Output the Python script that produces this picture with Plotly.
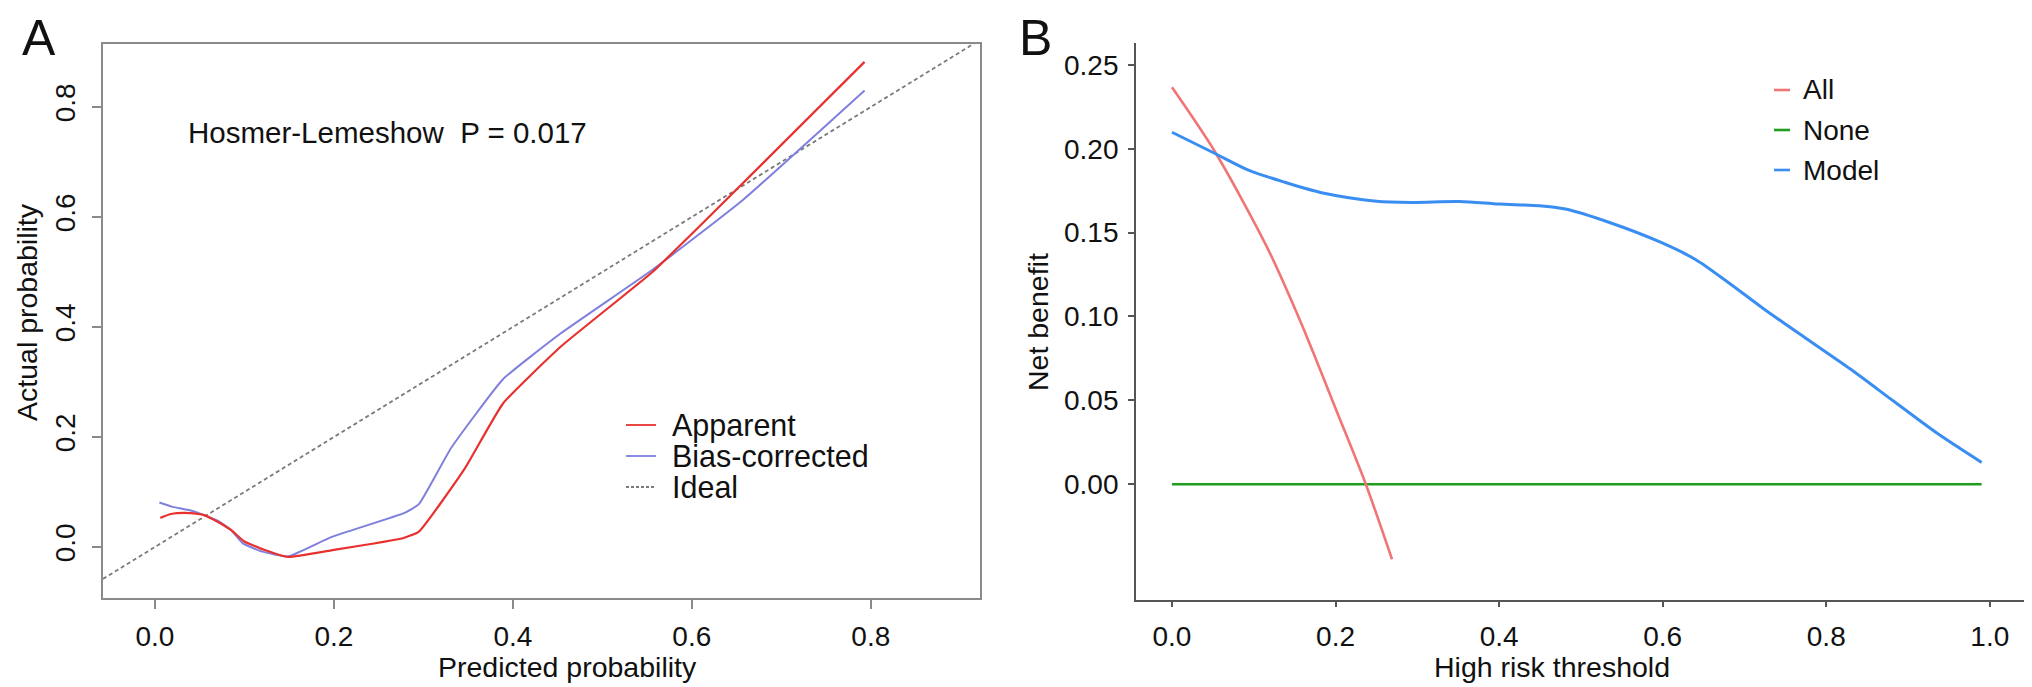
import plotly.graph_objects as go

W, H = 2032, 687
FONT = "Liberation Sans, Arial, Helvetica, sans-serif"

# ---------------- Panel A: calibration curve ----------------
apparent_pred = [0.006, 0.018, 0.033, 0.048, 0.055, 0.070, 0.085, 0.100, 0.122, 0.149,
                 0.197, 0.277, 0.295, 0.346, 0.389, 0.454, 0.556, 0.621, 0.793]
apparent_actual = [0.053, 0.060, 0.062, 0.060, 0.058, 0.046, 0.031, 0.010, -0.005, -0.018,
                   -0.006, 0.016, 0.028, 0.142, 0.261, 0.365, 0.500, 0.603, 0.882]

bias_pred = [0.005, 0.020, 0.039, 0.055, 0.070, 0.085, 0.098, 0.119, 0.149, 0.197,
             0.279, 0.295, 0.331, 0.389, 0.454, 0.556, 0.657, 0.793]
bias_actual = [0.081, 0.073, 0.067, 0.058, 0.048, 0.031, 0.007, -0.008, -0.017, 0.018,
               0.062, 0.078, 0.180, 0.305, 0.389, 0.504, 0.631, 0.830]

ideal_x = [-0.058, 1.0]
ideal_y = [-0.058, 1.0]

a_ticks = [0.0, 0.2, 0.4, 0.6, 0.8]
a_ticktext = ["0.0", "0.2", "0.4", "0.6", "0.8"]
a_legend = ["Apparent", "Bias-corrected", "Ideal"]
hl_text = "Hosmer-Lemeshow  P = 0.017"

# ---------------- Panel B: decision curve ----------------
all_thr = [0.0, 0.052, 0.116, 0.159, 0.202, 0.237, 0.269]
all_nb = [0.2366, 0.1986, 0.1415, 0.0948, 0.0428, 0.0, -0.0447]

none_thr = [0.0, 0.99]
none_nb = [0.0, 0.0]

model_thr = [0.0, 0.052, 0.095, 0.138, 0.186, 0.250, 0.293, 0.352, 0.400, 0.449, 0.481,
             0.535, 0.598, 0.641, 0.679, 0.722, 0.775, 0.829, 0.883, 0.937, 0.990]
model_nb = [0.2098, 0.1973, 0.1869, 0.1800, 0.1734, 0.1687, 0.1680, 0.1685, 0.1670, 0.1660, 0.1640,
            0.1560, 0.1441, 0.1337, 0.1207, 0.1051, 0.0870, 0.0688, 0.0493, 0.0299, 0.0130]

b_xticks = [0.0, 0.2, 0.4, 0.6, 0.8, 1.0]
b_xticktext = ["0.0", "0.2", "0.4", "0.6", "0.8", "1.0"]
b_yticks = [0.0, 0.05, 0.10, 0.15, 0.20, 0.25]
b_yticktext = ["0.00", "0.05", "0.10", "0.15", "0.20", "0.25"]
b_legend = ["All", "None", "Model"]

# colours
C_APP = "#E8312F"
C_BIAS = "#7F7FDD"
C_IDEAL = "#7a7a7a"
C_ALL = "#F07575"
C_NONE = "#1F9E1F"
C_MODEL = "#3A8EF2"


def px(x):
    return x / W


def py(y):
    return 1 - y / H


fig = go.Figure()

fig.add_trace(go.Scatter(x=ideal_x, y=ideal_y, mode="lines", name="Ideal",
                         line=dict(color=C_IDEAL, width=1.8, dash="4px,3px"),
                         xaxis="x", yaxis="y", showlegend=False))
fig.add_trace(go.Scatter(x=bias_pred, y=bias_actual, mode="lines", name="Bias-corrected",
                         line=dict(color=C_BIAS, width=2, shape="spline", smoothing=0.4),
                         xaxis="x", yaxis="y", showlegend=False))
fig.add_trace(go.Scatter(x=apparent_pred, y=apparent_actual, mode="lines", name="Apparent",
                         line=dict(color=C_APP, width=2.2, shape="spline", smoothing=0.4),
                         xaxis="x", yaxis="y", showlegend=False))

fig.add_trace(go.Scatter(x=none_thr, y=none_nb, mode="lines", name="None",
                         line=dict(color=C_NONE, width=2.6),
                         xaxis="x2", yaxis="y2", showlegend=False))
fig.add_trace(go.Scatter(x=all_thr, y=all_nb, mode="lines", name="All",
                         line=dict(color=C_ALL, width=2.6, shape="spline", smoothing=0.8),
                         xaxis="x2", yaxis="y2", showlegend=False))
fig.add_trace(go.Scatter(x=model_thr, y=model_nb, mode="lines", name="Model",
                         line=dict(color=C_MODEL, width=3, shape="spline", smoothing=0.8),
                         xaxis="x2", yaxis="y2", showlegend=False))

tickfont = dict(family=FONT, size=28, color="#111111")

# pixel geometry of the two panels
A_L, A_R, A_T, A_B = 95, 972, 36, 590
B_L, B_R, B_T, B_B = 1128, 2017, 35, 592

fig.update_layout(
    width=W, height=H,
    margin=dict(l=0, r=0, t=0, b=0),
    paper_bgcolor="white", plot_bgcolor="white",
    font=dict(family=FONT, size=28, color="#111111"),
    xaxis=dict(domain=[px(A_L), px(A_R)], range=[-0.058, 0.922],
               tickvals=a_ticks, ticktext=a_ticktext, tickfont=tickfont,
               ticks="outside", ticklen=9, tickwidth=1.5, tickcolor="#8a8a8a",
               showline=True, linecolor="#8a8a8a", linewidth=1.8, mirror=True,
               showgrid=False, zeroline=False, ticklabelstandoff=3, anchor="y"),
    yaxis=dict(domain=[py(A_B), py(A_T)], range=[-0.0927, 0.9145],
               tickvals=a_ticks, ticktext=a_ticktext, tickfont=tickfont, tickangle=-90,
               ticks="outside", ticklen=9, tickwidth=1.5, tickcolor="#8a8a8a",
               showline=True, linecolor="#8a8a8a", linewidth=1.8, mirror=True,
               showgrid=False, zeroline=False, ticklabelstandoff=6, anchor="x"),
    xaxis2=dict(domain=[px(B_L), px(B_R)], range=[-0.044, 1.043],
                tickvals=b_xticks, ticktext=b_xticktext, tickfont=tickfont,
                ticks="outside", ticklen=5, tickwidth=1.5, tickcolor="#555555",
                showline=True, linecolor="#555555", linewidth=1.8,
                showgrid=False, zeroline=False, ticklabelstandoff=5, anchor="y2"),
    yaxis2=dict(domain=[py(B_B), py(B_T)], range=[-0.069, 0.263],
                tickvals=b_yticks, ticktext=b_yticktext, tickfont=tickfont,
                ticks="outside", ticklen=6, tickwidth=1.5, tickcolor="#555555",
                showline=True, linecolor="#555555", linewidth=1.8,
                showgrid=False, zeroline=False, ticklabelstandoff=4, anchor="x2"),
    showlegend=False,
)

annotations = []
shapes = []


def text(x, y, s, size=28, xanchor="center", yanchor="middle", angle=0):
    annotations.append(dict(x=px(x), y=py(y), xref="paper", yref="paper", text=s,
                            showarrow=False, xanchor=xanchor, yanchor=yanchor,
                            textangle=angle, font=dict(family=FONT, size=size, color="#111111")))


# panel labels
text(31, 0, "A", size=50, yanchor="top")
text(1027, 0, "B", size=50, yanchor="top")

# axis titles
text(559, 659, "Predicted probability", size=28.5)
text(19, 304, "Actual probability", size=28.5, angle=-90)
text(1544, 659, "High risk threshold", size=28.5)
text(1030, 314, "Net benefit", size=28.5, angle=-90)

# Hosmer-Lemeshow annotation
text(178, 125, hl_text, size=29.5, xanchor="left")

# legend A
a_legend_style = [(C_APP, "solid"), (C_BIAS, "solid"), (C_IDEAL, "3px,2px")]
for i, (lab, (col, dash)) in enumerate(zip(a_legend, a_legend_style)):
    yy = 417 + i * 31
    shapes.append(dict(type="line", xref="paper", yref="paper",
                       x0=px(618), x1=px(648), y0=py(yy), y1=py(yy),
                       line=dict(color=col, width=1.8, dash=dash)))
    text(662, yy, lab, size=30.5, xanchor="left")

# legend B
b_cols = [C_ALL, C_NONE, C_MODEL]
for i, (lab, col) in enumerate(zip(b_legend, b_cols)):
    yy = 82 + i * 40
    shapes.append(dict(type="line", xref="paper", yref="paper",
                       x0=px(1766), x1=px(1782), y0=py(yy), y1=py(yy),
                       line=dict(color=col, width=2.6)))
    text(1793, yy, lab, xanchor="left")

fig.update_layout(annotations=annotations, shapes=shapes)

fig.write_html("out.html")
